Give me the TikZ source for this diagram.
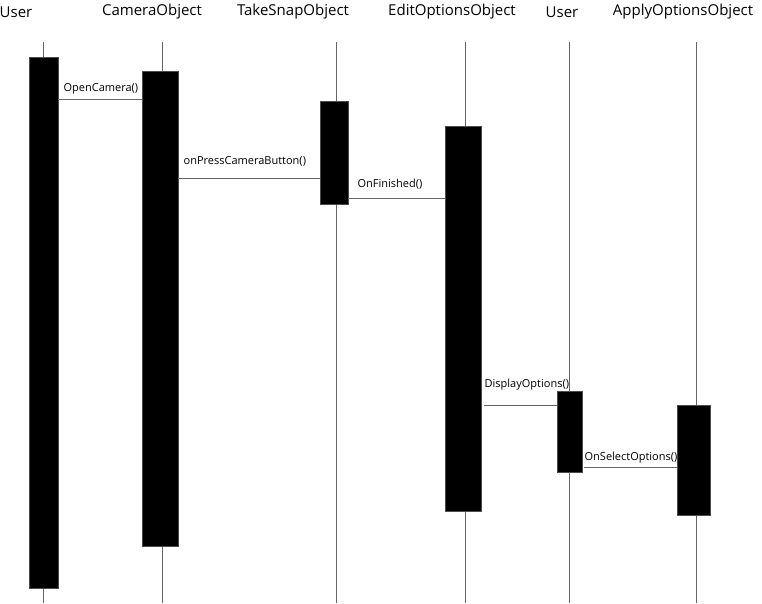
\documentclass[tikz,border=0pt]{standalone}
\usepackage{fontspec}
\setmainfont{Open Sans}
\usetikzlibrary{positioning}

\begin{document}
\begin{tikzpicture}[x=1pt,y=-1pt]
\tikzstyle{every node}=[inner sep=0pt]
\tikzstyle{head}=[font=\fontsize{15}{17}\selectfont]
\tikzstyle{act}=[fill=black, draw=black!70, anchor=north]
\tikzstyle{life}=[draw=black!60, line width=0.9pt]
\tikzstyle{msg}=[draw=black!60, line width=0.9pt]
\tikzstyle{lbl}=[font=\fontsize{11}{13}\selectfont, anchor=base west]

\useasboundingbox (0,0) rectangle (762,603);

% object names
\node[head] (hUser) at (16,12) {User};
\node[head] (hCamera) at (152,12) {CameraObject};
\node[head] (hSnap) at (293,12) {TakeSnapObject};
\node[head] (hEdit) at (452,12) {EditOptionsObject};
\node[head] (hUserB) at (562,12) {User};
\node[head] (hApply) at (683,12) {ApplyOptionsObject};

% lifelines
\foreach \n/\x in {User/43,Camera/162,Snap/336,Edit/465,UserB/569,Apply/696}
  \draw[life] (\x,42) coordinate (top\n) -- (\x,603) coordinate (bot\n);

% activations
\node[act, minimum width=29, minimum height=531] (aUser) at (43.5,57) {};
\node[act, minimum width=36, minimum height=475] (aCamera) at (160,71) {};
\node[act, minimum width=28, minimum height=103] (aSnap) at (334,101) {};
\node[act, minimum width=36, minimum height=385] (aEdit) at (463,126) {};
\node[act, minimum width=25, minimum height=81] (aUserB) at (569.5,391) {};
\node[act, minimum width=33, minimum height=110] (aApply) at (693.5,405) {};

% messages
\draw[msg] (aUser.east |- 0,99) -- node[lbl, pos=0, xshift=5, yshift=8] {OpenCamera()} (aCamera.west |- 0,99);
\draw[msg] (aCamera.east |- 0,178) -- node[lbl, pos=0, xshift=5, yshift=14] {onPressCameraButton()} (aSnap.west |- 0,178);
\draw[msg] (aSnap.east |- 0,198) -- node[lbl, pos=0, xshift=9, yshift=11] {OnFinished()} (aEdit.west |- 0,198);
\draw[msg] ([xshift=3]aEdit.east |- 0,405) -- node[lbl, pos=0, yshift=18] {DisplayOptions()} (aUserB.west |- 0,405);
\draw[msg] ([xshift=2]aUserB.east |- 0,467) -- node[lbl, pos=0, yshift=7] {OnSelectOptions()} (aApply.west |- 0,467);
\end{tikzpicture}
\end{document}
